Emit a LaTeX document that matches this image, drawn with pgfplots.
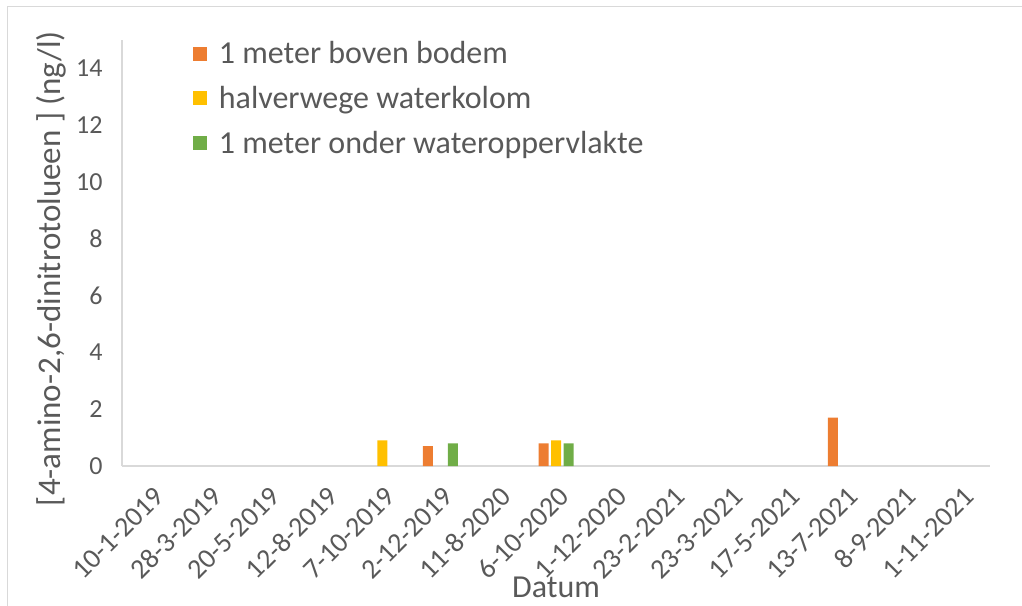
\documentclass[border=0pt]{standalone}
\usepackage{pgfplots}
\pgfplotsset{compat=1.18}
\usepackage{fontspec}
\setmainfont{Carlito}
\definecolor{cOrange}{HTML}{ED7D31}
\definecolor{cYellow}{HTML}{FFC000}
\definecolor{cGreen}{HTML}{70AD47}
\definecolor{txt}{HTML}{595959}
\definecolor{axl}{HTML}{D9D9D9}
\pgfplotsset{sq/.style={legend image code/.code={\fill[##1] (0pt,-7pt) rectangle (14pt,7pt);}}}
\begin{document}
\begin{tikzpicture}
\draw[axl, line width=1pt] (7pt,-20pt) rectangle (1040pt,598pt);
\begin{axis}[
  at={(122pt,139pt)}, anchor=south west,
  width=868pt, height=426pt, scale only axis,
  xmin=-0.5, xmax=14.5, ymin=0, ymax=15,
  ybar=2.5pt, bar width=10pt,
  axis lines*=left,
  axis line style={draw=axl, line width=1.5pt, -},
  xtick={0,...,14},
  xticklabels={10-1-2019,28-3-2019,20-5-2019,12-8-2019,7-10-2019,2-12-2019,11-8-2020,6-10-2020,1-12-2020,23-2-2021,23-3-2021,17-5-2021,13-7-2021,8-9-2021,1-11-2021},
  ytick={0,2,...,14},
  major tick length=0pt,
  /pgf/number format/assume math mode=true,
  tick label style={text=txt},
  xticklabel style={font=\fontsize{28}{33}\selectfont, rotate=45, anchor=east, xshift=-9pt, yshift=-24pt},
  yticklabel style={font=\fontsize{26}{30}\selectfont, anchor=east, xshift=-16pt},
  xlabel={Datum},
  ylabel={[4-amino-2,6-dinitrotolueen ] (ng/l)},
  label style={text=txt},
  xlabel style={font=\fontsize{32}{38}\selectfont, at={(axis description cs:0.5,-0.286)}, anchor=center},
  ylabel style={font=\fontsize{33}{38}\selectfont, at={(axis description cs:-0.082,0.4636)}, anchor=center, rotate=0},
  legend style={at={(axis description cs:0.078,1.006)}, anchor=north west, draw=none, fill=none,
    font=\fontsize{32}{38}\selectfont, text=txt, row sep=17pt,
    nodes={inner xsep=12pt}},
  legend cell align=left,
]
\addplot[fill=cOrange, draw=none, sq] coordinates {(5,0.7) (7,0.8) (12,1.7)};
\addplot[fill=cYellow, draw=none, sq] coordinates {(4,0.9) (7,0.9)};
\addplot[fill=cGreen, draw=none, sq] coordinates {(5,0.8) (7,0.8)};
\legend{1 meter boven bodem, halverwege waterkolom, 1 meter onder wateroppervlakte}
\end{axis}
\pgfresetboundingbox
\useasboundingbox (0,0) rectangle (1022pt,605pt);
\end{tikzpicture}
\end{document}
